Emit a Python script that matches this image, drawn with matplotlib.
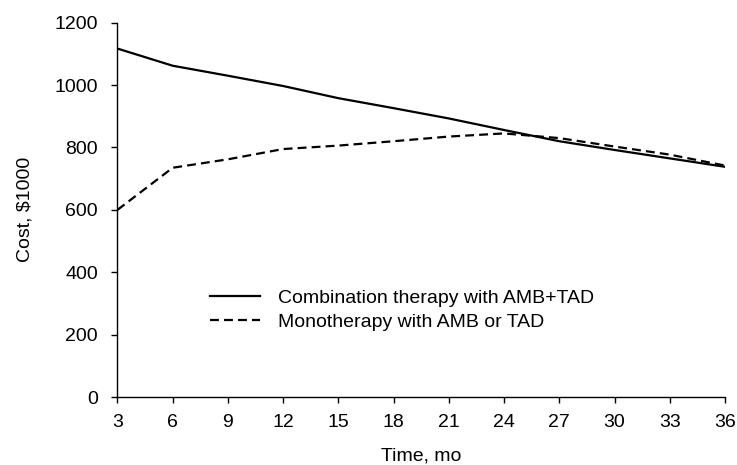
import numpy as np
import matplotlib
matplotlib.use("Agg")
import matplotlib.pyplot as plt

plt.rcParams['font.family'] = ['Liberation Sans', 'DejaVu Sans']

months = [3, 6, 9, 12, 15, 18, 21, 24, 27, 30, 33, 36]
combination = [1117, 1062, 1030, 997, 958, 926, 893, 856, 820, 792, 765, 738]
monotherapy = [600, 735, 762, 795, 806, 820, 835, 845, 830, 803, 777, 742]

fig = plt.figure(figsize=(7.37, 4.65), dpi=100)
ax = fig.add_axes([0.1594, 0.1462, 0.8243, 0.805])

ax.plot(months, combination, color='black', lw=1.6,
        label='Combination therapy with AMB+TAD')
ax.plot(months, monotherapy, color='black', lw=1.6, dashes=(4, 2.3),
        label='Monotherapy with AMB or TAD')

ax.set_xlim(3, 36)
ax.set_ylim(0, 1200)
ax.set_xticks(np.arange(3, 37, 3))
ax.set_yticks(np.arange(0, 1201, 200))

for s in ['top', 'right']:
    ax.spines[s].set_visible(False)
for s in ['left', 'bottom']:
    ax.spines[s].set_linewidth(1.0)

ax.tick_params(axis='both', direction='out', length=4, width=1.0, labelsize=14)
ax.tick_params(axis='y', pad=10)
ax.tick_params(axis='x', pad=8)

ax.set_xlabel('Time, mo', fontsize=14, labelpad=12)
ax.set_ylabel('Cost, $1000', fontsize=14, labelpad=15)

ax.legend(loc='center left', bbox_to_anchor=(0.152, 0.232), frameon=False,
          fontsize=14, handlelength=2.6, handletextpad=0.9,
          borderpad=0, borderaxespad=0, labelspacing=0.3)

fig.savefig('out.png', dpi=100)
